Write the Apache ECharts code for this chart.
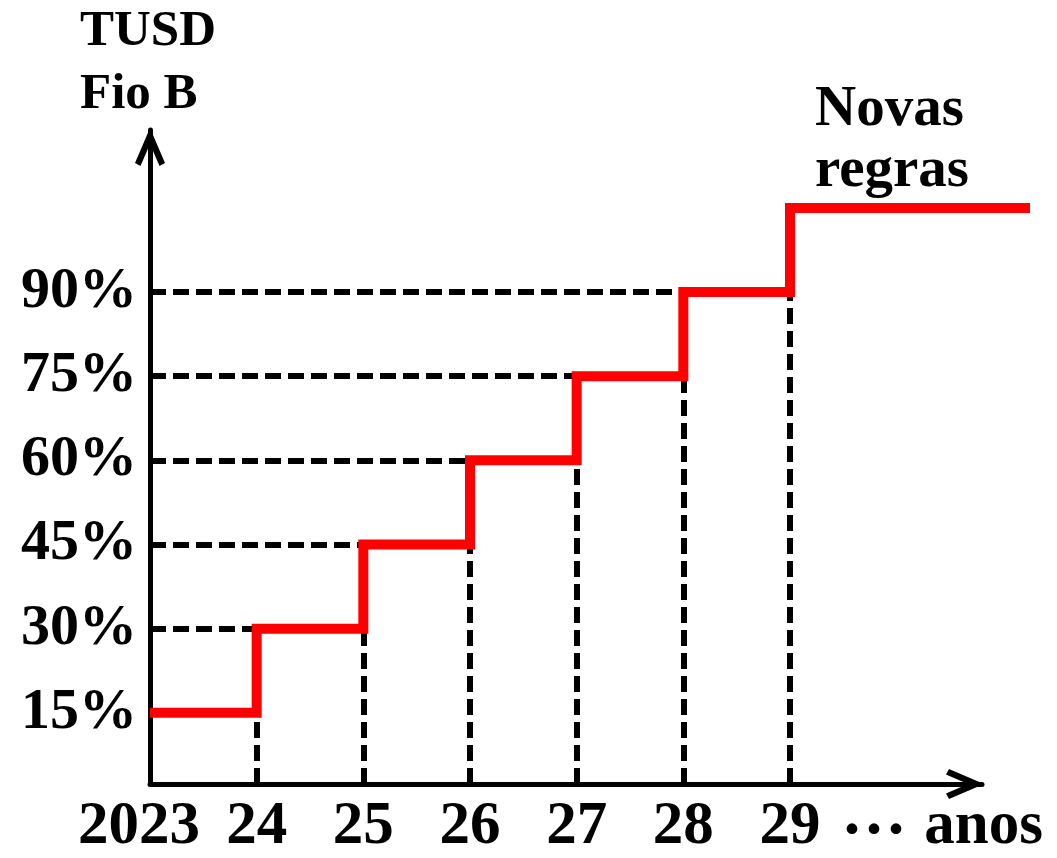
<!DOCTYPE html>
<html>
<head>
	<meta charset="utf-8">
	<title>TUSD Fio B</title>
	<script src="https://cdn.jsdelivr.net/npm/echarts@6/dist/echarts.min.js"></script>
	<style>
		body { margin: 0; background: #fff; }
		#main { width: 1057px; height: 858px; }
	</style>
</head>
<body>
	<div id="main"></div>
	<script type="text/javascript">
		// anos em que muda a parcela da TUSD Fio B
		var years = [2023, 2024, 2025, 2026, 2027, 2028, 2029];
		// percentual pago a partir de cada ano (o ultimo = novas regras)
		var levels = [15, 30, 45, 60, 75, 90, 105];
		// onde a linha vermelha termina (passa um pouco da seta)
		var lineEnd = 2031.25;
		var yTicks = [15, 30, 45, 60, 75, 90];

		var yMin = 2.3, yMax = 118.9;
		var xMin = 2023, xMax = 2030.8;

		var font = '"Liberation Serif", "Times New Roman", serif';
		var chevron = 'path://M15,0 L30,35 L24.5,38 L15,16 L5.5,38 L0,35 Z';

		// linha em degraus (horizontal e depois sobe no ano seguinte)
		var stepCoords = [];
		for (var i = 0; i < years.length; i++) {
			var next = i < years.length - 1 ? years[i + 1] : lineEnd;
			stepCoords.push([years[i], levels[i]]);
			stepCoords.push([next, levels[i]]);
		}

		// tracejados: horizontal ate o degrau, vertical do eixo ate o nivel anterior
		var guides = [];
		for (var j = 1; j < years.length; j++) {
			if (j < years.length - 1) {
				guides.push({ coords: [[xMin, levels[j]], [years[j], levels[j]]] });
			}
			guides.push({ coords: [[years[j], yMin], [years[j], levels[j - 1]]] });
		}

		var myChart = echarts.init(document.getElementById('main'));

		var option = {
			animation: false,
			grid: { left: 150, right: 75, top: 130, bottom: 69 },
			xAxis: {
				type: 'value',
				min: xMin,
				max: xMax,
				name: 'anos',
				nameLocation: 'end',
				nameGap: 61,
				nameTextStyle: {
					color: '#000', fontFamily: font, fontWeight: 'bold', fontSize: 61,
					align: 'right', verticalAlign: 'top', padding: [13, 0, 0, 0]
				},
				axisLine: {
					onZero: false,
					symbol: ['none', chevron],
					symbolSize: [30, 38],
					symbolOffset: [0, -17],
					lineStyle: { color: '#000', width: 5 }
				},
				axisTick: { show: false },
				splitLine: { show: false },
				axisLabel: {
					customValues: years,
					margin: 13,
					color: '#000', fontFamily: font, fontWeight: 'bold', fontSize: 61,
					formatter: function (v) {
						return v === 2023 ? '{first|2023}' : String(v).slice(2);
					},
					rich: {
						first: {
							color: '#000', fontFamily: font, fontWeight: 'bold', fontSize: 61,
							padding: [0, 22, 0, 0]
						}
					}
				}
			},
			yAxis: {
				type: 'value',
				min: yMin,
				max: yMax,
				axisLine: {
					show: true,
					onZero: false,
					symbol: ['none', chevron],
					symbolSize: [30, 38],
					symbolOffset: [0, -17],
					lineStyle: { color: '#000', width: 5 }
				},
				axisTick: { show: false },
				splitLine: { show: false },
				axisLabel: {
					customValues: yTicks,
					margin: 13,
					color: '#000', fontFamily: font, fontWeight: 'bold', fontSize: 58,
					formatter: '{value}%'
				}
			},
			graphic: [
				{
					type: 'text', left: 80, top: 0,
					style: { text: 'TUSD\nFio B', font: 'bold 51px ' + font, lineHeight: 63, fill: '#000' }
				},
				{
					type: 'text', left: 815, top: 80,
					style: { text: 'Novas\nregras', font: 'bold 57px ' + font, lineHeight: 61, fill: '#000' }
				},
				{
					type: 'text', left: 841, top: 800,
					style: { text: '···', font: 'bold 66px ' + font, lineHeight: 66, fill: '#000' }
				}
			],
			series: [
				{
					type: 'lines',
					coordinateSystem: 'cartesian2d',
					silent: true,
					z: 2,
					lineStyle: { color: '#000', width: 6, type: [16, 7], opacity: 1 },
					data: guides
				},
				{
					type: 'lines',
					coordinateSystem: 'cartesian2d',
					polyline: true,
					clip: false,
					silent: true,
					z: 5,
					lineStyle: { color: '#ff0000', width: 10, opacity: 1, join: 'miter', cap: 'butt' },
					data: [{ coords: stepCoords }]
				}
			]
		};

		myChart.setOption(option);
	</script>
</body>
</html>
